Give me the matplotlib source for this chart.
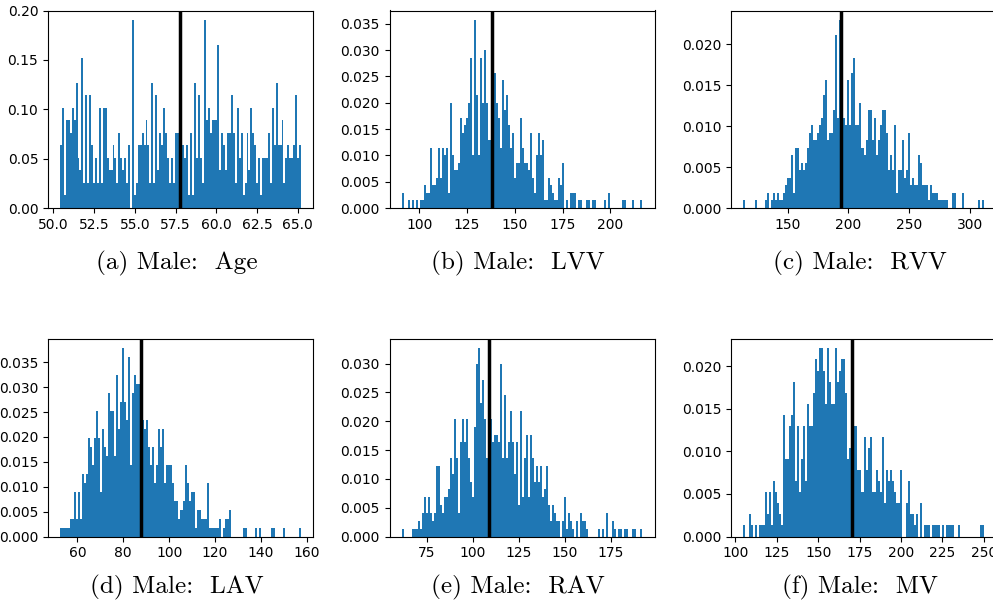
import numpy as np
import matplotlib.pyplot as plt
from matplotlib.ticker import MultipleLocator

# bar heights of each histogram, in number of subjects per bin
age_counts = [5, 8, 1, 7, 7, 6, 8, 7, 10, 4,
              3, 12, 2, 9, 2, 9, 5, 2, 4, 2,
              8, 2, 8, 8, 4, 3, 3, 5, 4, 2,
              6, 4, 3, 4, 2, 5, 0, 15, 1, 2,
              5, 5, 6, 5, 7, 5, 2, 10, 2, 9,
              3, 6, 5, 8, 6, 4, 2, 4, 2, 6,
              6, 6, 11,
              5, 4, 5, 1, 6, 1, 10, 4, 9, 4,
              2, 15, 7, 8, 6, 7, 7, 7, 13, 3,
              6, 5, 3, 6, 6, 9, 6, 2, 8, 4,
              6, 1, 2, 6, 3, 8, 6, 5, 2, 4,
              1, 4, 4, 4, 6, 2, 8, 5, 10, 5,
              5, 7, 2, 4, 5, 4, 4, 5, 9, 4,
              5]
lvv_counts = [2, 0, 0, 1, 0, 1, 0, 1, 0, 1,
              1, 3, 2, 2, 8, 3, 3, 4, 8, 4,
              8, 7, 8, 2, 14, 7, 5, 5, 6, 12,
              10, 11, 12, 14, 20, 7, 25, 15, 7, 20,
              14, 21, 14, 9, 9, 18, 18, 14, 12, 8,
              17, 13, 15, 11, 8, 10, 4, 6, 6, 12,
              8, 6, 6, 5, 10, 4, 2, 7, 10, 7,
              9, 1, 1, 4, 3, 2, 1, 1, 4, 3,
              6, 0, 1, 0, 2, 2, 2, 0, 1, 1,
              0, 0, 1, 1, 0, 1, 1, 0, 0, 0,
              0, 1, 0, 2, 0, 0, 0, 0, 0, 0,
              1, 1, 0, 0, 0, 1, 0, 0, 0, 1]
rvv_counts = [1, 0, 0, 0, 0, 0, 1, 0, 0, 0,
              0, 1, 2, 0, 1, 2, 1, 2, 1, 1,
              2, 3, 4, 4, 7, 2, 8, 8, 5, 6,
              5, 6, 8, 10, 11, 9, 9, 10, 11, 12,
              15, 17, 9, 10, 10, 13, 23, 12, 25, 14,
              12, 11, 17, 11, 18, 20, 11, 11, 14, 8,
              7, 9, 13, 13, 9, 12, 7, 9, 11, 13,
              13, 10, 5, 7, 5, 11, 2, 5, 5, 9,
              4, 5, 10, 3, 4, 3, 3, 7, 6, 3,
              3, 3, 1, 3, 2, 2, 2, 1, 1, 1,
              1, 1, 0, 0, 2, 2, 0, 0, 0, 2,
              0, 0, 0, 0, 0, 0, 0, 1, 0, 1]
lav_counts = [1, 1, 1, 1, 1, 2, 2, 5, 2, 5,
              2, 7, 6, 7, 11, 10, 8, 11, 14, 11,
              5, 12, 10, 9, 16, 14, 14, 9, 18, 12,
              15, 21, 15, 13, 20, 8, 16, 18, 17, 17,
              15, 13, 12, 13, 10, 8, 10, 6, 8, 12,
              10, 12, 6, 8, 8, 8, 6, 4, 4, 2,
              3, 4, 8, 6, 4, 5, 5, 1, 3, 3,
              2, 2, 2, 6, 1, 1, 1, 1, 1, 2,
              0, 1, 2, 2, 3, 0, 0, 0, 0, 0,
              0, 1, 1, 0, 0, 0, 0, 1, 0, 1,
              0, 0, 0, 0, 0, 1, 1, 0, 0, 0,
              0, 1, 0, 0, 0, 0, 0, 0, 0, 1]
rav_counts = [1, 0, 0, 0, 0, 1, 1, 1, 2, 1,
              3, 5, 3, 5, 3, 2, 3, 9, 9, 4,
              3, 5, 5, 6, 10, 8, 15, 10, 3, 12,
              15, 12, 15, 10, 7, 5, 14, 22, 24, 17,
              20, 15, 10, 15, 15, 12, 13, 13, 12, 22,
              10, 18, 10, 12, 16, 12, 8, 12, 4, 16,
              5, 10, 13, 5, 13, 10, 7, 9, 7, 9,
              5, 6, 9, 4, 2, 4, 3, 2, 2, 0,
              2, 5, 1, 3, 2, 1, 0, 2, 0, 3,
              2, 2, 1, 0, 0, 0, 0, 0, 1, 0,
              1, 0, 3, 0, 0, 2, 1, 0, 1, 1,
              0, 1, 1, 0, 0, 1, 1, 0, 0, 1]
mv_counts = [1, 0, 0, 2, 1, 0, 1, 0, 1, 1,
             1, 4, 2, 4, 1, 5, 4, 3, 2, 1,
             11, 7, 7, 10, 11, 14, 5, 10, 4, 7,
             10, 5, 12, 10, 10, 13, 16, 15, 17, 17,
             15, 12, 17, 14, 12, 12, 17, 14, 15, 16,
             16, 13, 7, 8, 10, 10, 10, 6, 6, 4,
             9, 6, 8, 9, 4, 4, 6, 5, 4, 9,
             3, 6, 5, 6, 5, 4, 3, 3, 6, 0,
             0, 3, 5, 2, 2, 1, 2, 0, 3, 0,
             1, 1, 1, 0, 1, 1, 1, 1, 0, 1,
             0, 1, 1, 1, 1, 0, 0, 1, 0, 0,
             0, 0, 0, 0, 0, 0, 0, 0, 1, 1]

# left edge of the first bin and right edge of the last bin
age_range = (50.41, 65.2)
lvv_range = (90.8, 216.8)
rvv_range = (113.2, 311.8)
lav_range = (52.45, 157.45)
rav_range = (61.4, 192.1)
mv_range = (104.6, 250.1)

# density of a single subject in one bin
age_unit = 0.0127
lvv_unit = 0.00143
rvv_unit = 0.00092
lav_unit = 0.0018
rav_unit = 0.00136
mv_unit = 0.0013

# position of the black vertical line (mean)
age_mean = 57.78
lvv_mean = 138.2
rvv_mean = 194.0
lav_mean = 87.6
rav_mean = 108.8
mv_mean = 170.7

panels = [
    ('(a)', 'Age', age_counts, age_range, age_unit, age_mean),
    ('(b)', 'LVV', lvv_counts, lvv_range, lvv_unit, lvv_mean),
    ('(c)', 'RVV', rvv_counts, rvv_range, rvv_unit, rvv_mean),
    ('(d)', 'LAV', lav_counts, lav_range, lav_unit, lav_mean),
    ('(e)', 'RAV', rav_counts, rav_range, rav_unit, rav_mean),
    ('(f)', 'MV', mv_counts, mv_range, mv_unit, mv_mean),
]

# tick spacing (x, y) of each panel
steps = [(2.5, 0.05), (25, 0.005), (50, 0.005),
         (20, 0.005), (25, 0.005), (25, 0.005)]

W, H = 993, 602
fig = plt.figure(figsize=(W / 100, H / 100), dpi=100)

# top-left corner of each axes and caption baseline, in pixels
corners = [(48, 10.5, 269), (389.5, 10.5, 269), (731, 10.5, 269),
           (48, 339, 593), (389.5, 339, 593), (731, 339, 593)]
ax_w, ax_h = 265, 197.5

for (tag, name, counts, rng, unit, mean), (x0, y0, yc), (sx, sy) in zip(panels, corners, steps):
    ax = fig.add_axes([x0 / W, 1 - (y0 + ax_h) / H, ax_w / W, ax_h / H])
    counts = np.array(counts, dtype=float)
    edges = np.linspace(rng[0], rng[1], len(counts) + 1)
    centers = (edges[:-1] + edges[1:]) / 2
    ax.hist(centers, bins=edges, weights=counts * unit, color='C0')
    ax.axvline(mean, color='black', linewidth=2.5)
    ax.xaxis.set_major_locator(MultipleLocator(sx))
    ax.yaxis.set_major_locator(MultipleLocator(sy))
    fig.text((x0 + ax_w / 2 - 4) / W, 1 - yc / H, '%s Male:  %s' % (tag, name),
             ha='center', va='baseline', fontsize=18.2, family='cmr10')

fig.savefig('out.png', dpi=100)
